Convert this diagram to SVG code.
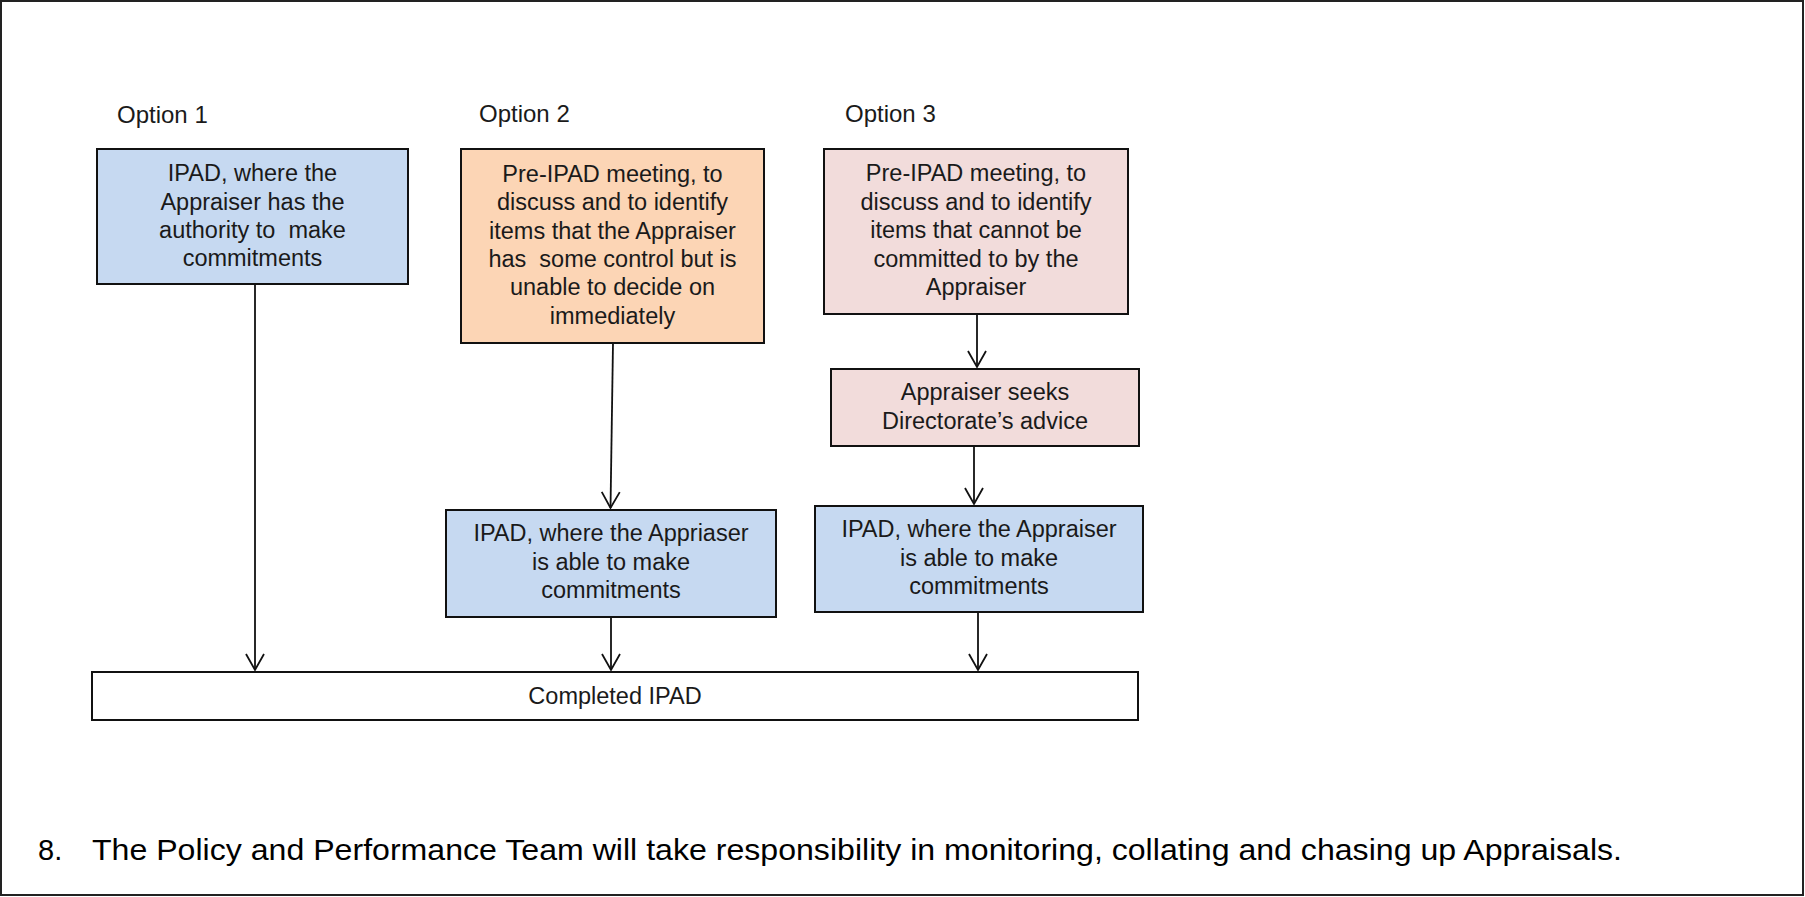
<svg xmlns="http://www.w3.org/2000/svg" width="1805" height="897" viewBox="0 0 1805 897">
<style>
.box{stroke:#111;stroke-width:2}
.blue{fill:#C6D9F1}
.orange{fill:#FCD5B5}
.pink{fill:#F2DCDB}
.white{fill:#fff}
.t{font-family:"Liberation Sans",Arial,sans-serif;font-size:23.5px;fill:#1a1a1a;text-anchor:middle;white-space:pre}
.lbl{font-family:"Liberation Sans",Arial,sans-serif;font-size:24px;fill:#1a1a1a}
.foot{font-family:"Liberation Sans",Arial,sans-serif;font-size:29px;fill:#000}
.conn{stroke:#111;stroke-width:1.8;fill:none}
</style>
<defs>
<marker id="arr" markerWidth="22" markerHeight="22" refX="17" refY="10" orient="auto" markerUnits="userSpaceOnUse">
<path d="M1,1 L17,10 L1,19" fill="none" stroke="#111" stroke-width="1.8"/>
</marker>
</defs>
<rect x="1" y="1" width="1802" height="894" fill="#fff" stroke="#222" stroke-width="2"/>

<g id="labels">
<text class="lbl" x="117" y="123">Option 1</text>
<text class="lbl" x="479" y="122">Option 2</text>
<text class="lbl" x="845" y="122">Option 3</text>
</g>

<g id="connectors">
<line class="conn" x1="255" y1="284" x2="255" y2="670" marker-end="url(#arr)"/>
<line class="conn" x1="613" y1="343" x2="610.5" y2="508" marker-end="url(#arr)"/>
<line class="conn" x1="611" y1="617" x2="611" y2="670" marker-end="url(#arr)"/>
<line class="conn" x1="977" y1="314" x2="977" y2="367" marker-end="url(#arr)"/>
<line class="conn" x1="974" y1="446" x2="974" y2="504" marker-end="url(#arr)"/>
<line class="conn" x1="978" y1="612" x2="978" y2="670" marker-end="url(#arr)"/>
</g>

<g id="node-opt1">
<rect class="box blue" x="97" y="149" width="311" height="135"/>
<text class="t" x="252.5" y="181">IPAD, where the</text>
<text class="t" x="252.5" y="209.5">Appraiser has the</text>
<text class="t" x="252.5" y="238">authority to  make</text>
<text class="t" x="252.5" y="266">commitments</text>
</g>

<g id="node-opt2">
<rect class="box orange" x="461" y="149" width="303" height="194"/>
<text class="t" x="612.5" y="182">Pre-IPAD meeting, to</text>
<text class="t" x="612.5" y="210">discuss and to identify</text>
<text class="t" x="612.5" y="238.5">items that the Appraiser</text>
<text class="t" x="612.5" y="267">has  some control but is</text>
<text class="t" x="612.5" y="295">unable to decide on</text>
<text class="t" x="612.5" y="323.5">immediately</text>
</g>

<g id="node-opt3">
<rect class="box pink" x="824" y="149" width="304" height="165"/>
<text class="t" x="976" y="181">Pre-IPAD meeting, to</text>
<text class="t" x="976" y="209.5">discuss and to identify</text>
<text class="t" x="976" y="238">items that cannot be</text>
<text class="t" x="976" y="266.5">committed to by the</text>
<text class="t" x="976" y="295">Appraiser</text>
</g>

<g id="node-seeks">
<rect class="box pink" x="831" y="369" width="308" height="77"/>
<text class="t" x="985" y="400">Appraiser seeks</text>
<text class="t" x="985" y="428.5">Directorate’s advice</text>
</g>

<g id="node-ipad2">
<rect class="box blue" x="446" y="510" width="330" height="107"/>
<text class="t" x="611" y="541">IPAD, where the Appriaser</text>
<text class="t" x="611" y="569.5">is able to make</text>
<text class="t" x="611" y="598">commitments</text>
</g>

<g id="node-ipad3">
<rect class="box blue" x="815" y="506" width="328" height="106"/>
<text class="t" x="979" y="537">IPAD, where the Appraiser</text>
<text class="t" x="979" y="565.5">is able to make</text>
<text class="t" x="979" y="594">commitments</text>
</g>

<g id="node-completed">
<rect class="box white" x="92" y="672" width="1046" height="48"/>
<text class="t" x="615" y="704">Completed IPAD</text>
</g>

<g id="footer">
<text class="foot" x="38" y="860">8.</text>
<text class="foot" x="92" y="860" textLength="1530" lengthAdjust="spacingAndGlyphs">The Policy and Performance Team will take responsibility in monitoring, collating and chasing up Appraisals.</text>
</g>
</svg>
